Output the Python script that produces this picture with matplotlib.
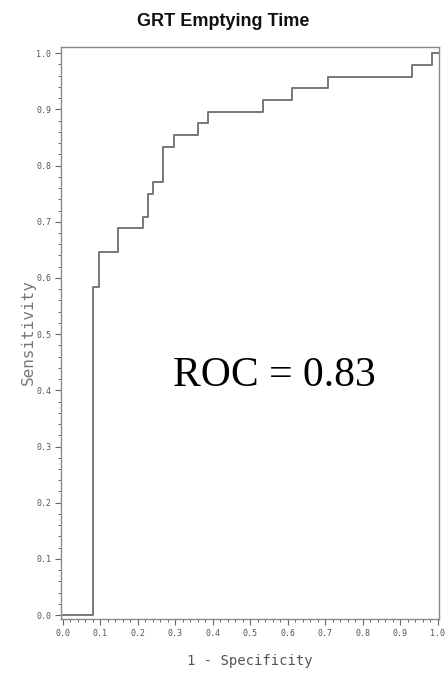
import matplotlib
matplotlib.use("Agg")
import matplotlib.pyplot as plt
from matplotlib.ticker import MultipleLocator, FormatStrFormatter

# ROC curve data (1 - specificity, sensitivity) as step points
fpr = [0.0, 0.081, 0.096, 0.148, 0.214, 0.228, 0.241, 0.266, 0.296, 0.361,
       0.388, 0.534, 0.611, 0.706, 0.930, 0.984, 1.0]
tpr = [0.0, 0.583, 0.646, 0.688, 0.708, 0.750, 0.771, 0.833, 0.854, 0.875,
       0.896, 0.917, 0.938, 0.958, 0.979, 1.0, 1.0]

title = "GRT Emptying Time"
xlabel = "1 - Specificity"
ylabel = "Sensitivity"
annotation = "ROC = 0.83"

W, H = 446, 676
fig = plt.figure(figsize=(W / 100, H / 100), dpi=100)
L, R, T, B = 61, 439, 47, 619
ax = fig.add_axes([L / W, 1 - B / H, (R - L) / W, (B - T) / H])

line_col = "#777777"
ax.plot(fpr, tpr, drawstyle="steps-post", color=line_col, lw=1.4)

ax.set_xlim(-0.005, 1.003)
ax.set_ylim(-0.007, 1.011)

for s in ax.spines.values():
    s.set_color("#8a8a8a")
    s.set_linewidth(1.0)

ax.xaxis.set_major_locator(MultipleLocator(0.1))
ax.xaxis.set_minor_locator(MultipleLocator(0.02))
ax.yaxis.set_major_locator(MultipleLocator(0.1))
ax.yaxis.set_minor_locator(MultipleLocator(0.02))
ax.xaxis.set_major_formatter(FormatStrFormatter("%.1f"))
ax.yaxis.set_major_formatter(FormatStrFormatter("%.1f"))

ax.tick_params(axis="both", which="major", length=4, width=0.8, color="#666666",
               labelcolor="#555555", pad=3)
ax.tick_params(axis="both", which="minor", length=2.2, width=0.7, color="#666666")
for lab in ax.get_xticklabels() + ax.get_yticklabels():
    lab.set_fontfamily("DejaVu Sans Mono")
    lab.set_fontsize(6)

ax.set_xlabel(xlabel, family="DejaVu Sans Mono", fontsize=10, color="#555555")
ax.xaxis.label.set_va("center")
ax.xaxis.set_label_coords(0.5, -0.073)
ax.set_ylabel(ylabel, family="DejaVu Sans Mono", fontsize=11.5, color="#777777")
ax.yaxis.label.set_va("center")
ax.yaxis.set_label_coords(-0.086, 0.502)

fig.text(0.5, 1 - 26 / H, title, ha="center", va="baseline",
         family="Liberation Sans", fontsize=13, fontweight="bold", color="#111111")

ax.text(0.293, 0.407, annotation, ha="left", va="baseline",
        family="Liberation Serif", fontsize=30, color="black")

fig.savefig("out.png", dpi=100, facecolor="white")
